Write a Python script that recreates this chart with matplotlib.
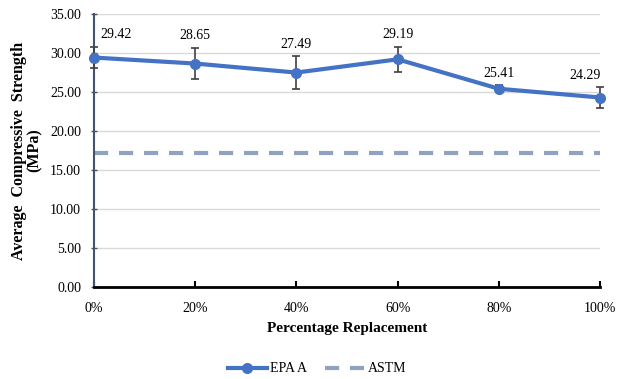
import matplotlib.pyplot as plt
from matplotlib.lines import Line2D
from matplotlib.ticker import FormatStrFormatter

plt.rcParams['font.family'] = ['Liberation Serif', 'DejaVu Serif']

categories = ["0%", "20%", "40%", "60%", "80%", "100%"]
epa_a = [29.42, 28.65, 27.49, 29.19, 25.41, 24.29]
epa_err = [1.35, 2.0, 2.1, 1.6, 0.45, 1.3]
astm = 17.2

line_color = '#4472C4'
astm_color = '#8FA2BF'
astm_dashes = (3.4, 2.6)

fig = plt.figure(figsize=(6.28, 3.79), dpi=100)
ax = fig.add_axes([0.149, 0.243, 0.807, 0.72])

x = list(range(len(categories)))
ax.errorbar(x, epa_a, yerr=epa_err, color=line_color, lw=3, marker='o',
            markersize=7, ecolor='#404040', elinewidth=1.2, capsize=3,
            capthick=1.2, zorder=3, clip_on=False)
ax.plot([x[0], x[-1]], [astm, astm], color=astm_color, lw=3,
        dashes=astm_dashes, zorder=2)

# value labels sit just above the error bar; end labels kept inside the plot
for i, (xi, v, e) in enumerate(zip(x, epa_a, epa_err)):
    if i == 0:
        ha, dx = 'left', 5
    elif i == len(x) - 1:
        ha, dx = 'right', 0
    else:
        ha, dx = 'center', 0
    ax.annotate(f"{v:.2f}", (xi, v + e), xytext=(dx, 4), textcoords='offset points',
                ha=ha, va='bottom', fontsize=10)

ax.set_xlim(0, len(categories) - 1)
ax.set_ylim(0, 35)
ax.set_yticks([0, 5, 10, 15, 20, 25, 30, 35])
ax.yaxis.set_major_formatter(FormatStrFormatter('%.2f'))
ax.set_xticks(x)
ax.set_xticklabels(categories)
ax.grid(axis='y', color='#D9D9D9', lw=1)
ax.set_axisbelow(True)

for s in ['top', 'right']:
    ax.spines[s].set_visible(False)
ax.spines['left'].set_color('#44546A')
ax.spines['left'].set_linewidth(1.5)
ax.spines['bottom'].set_color('black')
ax.spines['bottom'].set_linewidth(2)
ax.tick_params(axis='y', direction='inout', length=4, width=1, colors='#44546A',
               labelcolor='black', labelsize=10, pad=7)
ax.tick_params(axis='x', direction='in', length=4, width=1.5,
               labelsize=10, pad=11)

ax.set_xlabel('Percentage Replacement', fontsize=11, fontweight='bold', labelpad=5)
ax.set_ylabel('Average  Compressive  Strength\n(MPa)', fontsize=11.5,
              fontweight='bold', labelpad=5, linespacing=1.0)

handles = [
    Line2D([], [], color=line_color, lw=3, marker='o', markersize=7),
    Line2D([], [], color=astm_color, lw=3, dashes=astm_dashes),
]
fig.legend(handles, ['EPA A', 'ASTM'], loc='center',
           bbox_to_anchor=(0.505, 1 - 369 / 379), ncol=2, frameon=False,
           fontsize=10, handlelength=2.8, handletextpad=0.25, columnspacing=1.3,
           borderpad=0)

fig.savefig('out.png', dpi=100)
